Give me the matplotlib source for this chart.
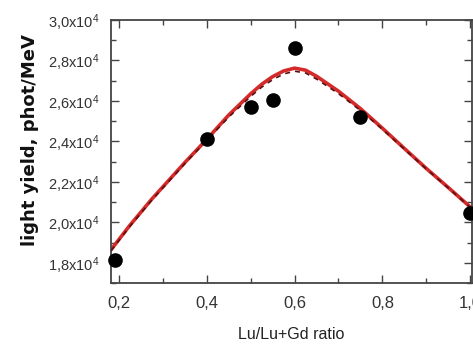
import matplotlib
matplotlib.use("Agg")
import matplotlib.pyplot as plt
from matplotlib.ticker import MultipleLocator, FuncFormatter

# measured points
ratio = [0.19, 0.40, 0.50, 0.55, 0.60, 0.75, 1.00]
light_yield = [1.815e4, 2.41e4, 2.57e4, 2.605e4, 2.862e4, 2.52e4, 2.045e4]

# fit curves
fit_x = [0.182, 0.20, 0.225, 0.25, 0.275, 0.30, 0.35, 0.40, 0.45, 0.50, 0.525, 0.55, 0.575,
         0.60, 0.625, 0.65, 0.70, 0.75, 0.80, 0.85, 0.90, 0.95, 1.004]
fit_solid = [1.864e4, 1.915e4, 1.985e4, 2.05e4, 2.115e4, 2.175e4, 2.295e4, 2.41e4, 2.53e4,
             2.635e4, 2.682e4, 2.72e4, 2.748e4, 2.762e4, 2.752e4, 2.722e4, 2.648e4, 2.562e4,
             2.465e4, 2.365e4, 2.266e4, 2.172e4, 2.068e4]
fit_dash = [1.86e4, 1.91e4, 1.98e4, 2.045e4, 2.11e4, 2.17e4, 2.29e4, 2.405e4, 2.52e4,
            2.622e4, 2.668e4, 2.705e4, 2.733e4, 2.747e4, 2.738e4, 2.708e4, 2.636e4, 2.553e4,
            2.46e4, 2.362e4, 2.264e4, 2.17e4, 2.066e4]

plt.rcParams['font.family'] = ['Liberation Sans', 'DejaVu Sans']
plt.rcParams['mathtext.fontset'] = 'custom'
plt.rcParams['mathtext.rm'] = 'Liberation Sans'

fig = plt.figure(figsize=(4.73, 3.64), dpi=100)
ax = fig.add_axes([111 / 473, 81 / 364, 361 / 473, 263 / 364])

ax.plot(fit_x, fit_solid, color='#d42a2a', lw=2.6, zorder=2, solid_joinstyle='round')
ax.plot(fit_x, fit_dash, color='#5a1010', lw=1.2, ls=(0, (3, 3)), zorder=3)
ax.plot(ratio, light_yield, 'o', color='black', ms=9.5, zorder=4, clip_on=False)

ax.set_xlim(0.182, 1.004)
ax.set_ylim(1.70e4, 3.0e4)

ax.xaxis.set_major_locator(MultipleLocator(0.2))
ax.xaxis.set_minor_locator(MultipleLocator(0.1))
ax.yaxis.set_major_locator(MultipleLocator(0.2e4))
ax.yaxis.set_minor_locator(MultipleLocator(0.1e4))

ax.xaxis.set_major_formatter(FuncFormatter(lambda v, p: f"{v:.1f}".replace('.', ',')))
ax.yaxis.set_major_formatter(FuncFormatter(
    lambda v, p: r"$\mathregular{" + f"{v / 1e4:.1f}".replace('.', '{,}') + r"x10^4}$"))

ax.tick_params(which='both', direction='in', top=True, right=True, width=1.0, color='#444444')
ax.tick_params(which='major', length=6)
ax.tick_params(which='minor', length=3.5)
ax.tick_params(axis='x', labelsize=12, pad=9, labelcolor='#333333')
ax.tick_params(axis='y', labelsize=10.5, pad=8, labelcolor='#333333')
for s in ax.spines.values():
    s.set_color('#444444')
    s.set_linewidth(1.3)

ax.set_xlabel('Lu/Lu+Gd ratio', fontsize=11.5, labelpad=12, color='#222222')
ax.set_ylabel('light yield, phot/MeV', fontsize=13, fontweight='bold',
              family=['DejaVu Sans'], color='#111111')
ax.yaxis.set_label_coords(-0.2, 0.545)

fig.savefig('out.png', dpi=100)
